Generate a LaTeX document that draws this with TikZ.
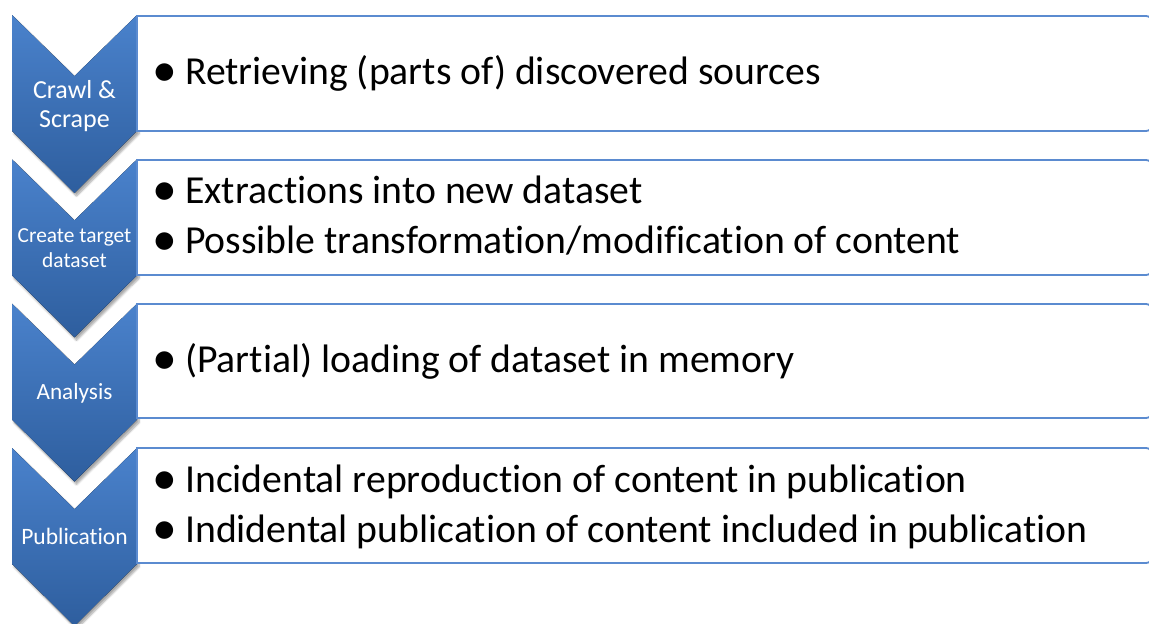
\documentclass[tikz,border=0pt]{standalone}
\usepackage{fontspec}
\setmainfont[Ligatures=NoCommon]{Carlito}
\usetikzlibrary{shadows.blur}
\definecolor{chevtop}{HTML}{4A82CC}
\definecolor{chevbot}{HTML}{2E5E9E}
\definecolor{rectline}{HTML}{5B8BD0}
\newcommand{\itembullet}{\llap{\raisebox{-2pt}{\scalebox{1.25}{•}}\hspace{7.5pt}}}
\begin{document}
\begin{tikzpicture}[x=1pt,y=-1pt,
  chev/.style={top color=chevtop,bottom color=chevbot,draw=none,
    blur shadow={shadow xshift=2pt,shadow yshift=-3pt,shadow blur steps=6,shadow opacity=35}},
  listbox/.style={draw=rectline,line width=1.8pt,fill=white},
  chevtext/.style={anchor=base,inner sep=0pt,text=white},
  item/.style={anchor=base west,inner sep=0pt,font=\fontsize{39.7}{50}\selectfont},
]
\useasboundingbox (0,0) rectangle (1149,624);
\clip (0,0) rectangle (1149,624);
% chevrons
\foreach \t in {15,159.3,303.6,448}{
  \fill[chev] (12,\t) -- (74.5,\t+61) -- (137,\t) -- (137,\t+116) -- (74.5,\t+178) -- (12,\t+116) -- cycle;
}
% boxes
\foreach \t/\b in {16/131,160/275,304/418,448/563}{
  \draw[listbox] (137,\t) [rounded corners=6pt] -- (1152,\t) -- (1152,\b) [sharp corners] -- (137,\b) -- cycle;
}
% chevron labels
\node[chevtext,font=\fontsize{26}{29}\selectfont] (c1a) at (74.5,98) {Crawl \&};
\node[chevtext,font=\fontsize{26}{29}\selectfont] (c1b) at (74.5,127) {Scrape};
\node[chevtext,font=\fontsize{21.4}{25}\selectfont] (c2a) at (74.5,242) {Create target};
\node[chevtext,font=\fontsize{21.4}{25}\selectfont] (c2b) at (74.5,267) {dataset};
\node[chevtext,font=\fontsize{23.2}{27}\selectfont] (c3) at (74.5,399) {Analysis};
\node[chevtext,font=\fontsize{23.5}{27}\selectfont] (c4) at (74.5,544) {Publication};
% items
\node[item] (i1) at (185,84) {\itembullet Retrieving (parts of) discovered sources};
\node[item] (i2) at (185,203) {\itembullet Extractions into new dataset};
\node[item] (i3) at (185,253) {\itembullet Possible transformation/modification of content};
\node[item] (i4) at (185,372) {\itembullet (Partial) loading of dataset in memory};
\node[item] (i5) at (185,492) {\itembullet Incidental reproduction of content in publication};
\node[item] (i6) at (185,542) {\itembullet Indidental publication of content included in publication};
\end{tikzpicture}
\end{document}
